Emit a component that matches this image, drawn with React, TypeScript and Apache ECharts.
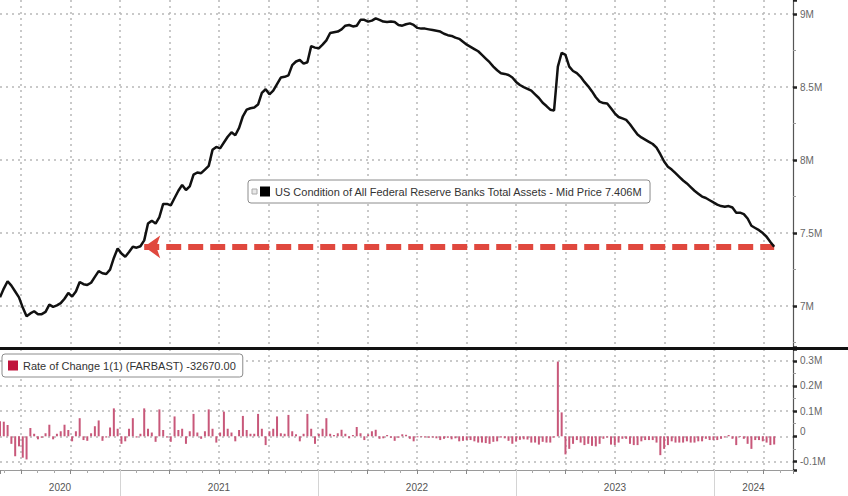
import React, { useEffect, useRef } from "react";
import * as echarts from "echarts";

// Weekly total assets of all Federal Reserve Banks (millions of millions, shown as "M"), late May 2020 -> late Apr 2024
const levels = [
  7.06, 7.12, 7.17, 7.14, 7.10, 7.06, 6.99, 6.93, 6.95, 6.965,
  6.945, 6.945, 6.96, 7.01, 6.995, 7.005, 7.02, 7.05, 7.09, 7.065,
  7.10, 7.165, 7.15, 7.145, 7.16, 7.20, 7.24, 7.225, 7.22, 7.25,
  7.33, 7.395, 7.36, 7.338, 7.37, 7.406, 7.40, 7.41, 7.45, 7.565,
  7.585, 7.565, 7.61, 7.70, 7.70, 7.69, 7.74, 7.79, 7.83, 7.795,
  7.82, 7.90, 7.915, 7.91, 7.935, 7.96, 8.07, 8.09, 8.08, 8.12,
  8.16, 8.19, 8.17, 8.22, 8.30, 8.345, 8.355, 8.36, 8.38, 8.46,
  8.485, 8.45, 8.475, 8.52, 8.565, 8.57, 8.58, 8.65, 8.675, 8.685,
  8.66, 8.67, 8.78, 8.77, 8.765, 8.79, 8.82, 8.87, 8.875, 8.88,
  8.895, 8.92, 8.925, 8.915, 8.92, 8.96, 8.96, 8.948, 8.955, 8.97,
  8.96, 8.948, 8.945, 8.948, 8.945, 8.925, 8.92, 8.93, 8.936, 8.925,
  8.905, 8.90, 8.90, 8.895, 8.89, 8.885, 8.88, 8.865, 8.855, 8.85,
  8.838, 8.83, 8.81, 8.79, 8.775, 8.76, 8.745, 8.72, 8.695, 8.67,
  8.64, 8.615, 8.595, 8.59, 8.583, 8.565, 8.535, 8.514, 8.50, 8.488,
  8.475, 8.45, 8.425, 8.392, 8.37, 8.345, 8.34, 8.64, 8.735, 8.72,
  8.64, 8.61, 8.595, 8.57, 8.535, 8.505, 8.47, 8.43, 8.40, 8.39,
  8.388, 8.355, 8.32, 8.295, 8.285, 8.275, 8.245, 8.21, 8.175, 8.155,
  8.14, 8.125, 8.11, 8.085, 8.04, 7.99, 7.955, 7.935, 7.91, 7.885,
  7.86, 7.84, 7.815, 7.79, 7.77, 7.75, 7.74, 7.725, 7.71, 7.695,
  7.685, 7.68, 7.685, 7.675, 7.64, 7.64, 7.63, 7.60, 7.55, 7.535,
  7.52, 7.50, 7.475, 7.439, 7.406,
];

// Weekly rate of change, in thousands
const changesK = [
  60, 58, 45, -30, -79, -40, -85, -92, 33, 10,
  -12, -6, 12, 46, -12, 10, 20, 46, 25, -20,
  20, 72, -15, -18, 12, 40, 63, -18, -5, 35,
  111, 30, -30, -20, 30, 72, -5, 10, 111, 30,
  15, -22, 107, 25, -5, -22, 79, 25, 30, -30,
  20, 89, 15, -10, 20, 107, 30, -25, 15, 98,
  30, 15, -20, 25, 81, 25, 10, 10, 89, 30,
  -35, 20, 30, 79, 12, 10, 85, 20, 8, -20,
  10, 89, 30, -30, 10, 30, 72, 10, 5, 12,
  26, 10, -8, 5, 37, 12, -15, 8, 20, 26,
  -10, -8, 5, -6, -18, -6, 8, 6, -10, -20,
  -4, -3, -5, -6, -5, -8, -15, -10, -6, -12,
  -8, -20, -18, -15, -15, -20, -25, -25, -27, -30,
  -22, -20, -5, -8, -18, -30, -21, -14, -12, -13,
  -25, -25, -33, -22, -25, -25, -5, 297, 95, -72,
  -50, -30, -15, -25, -35, -30, -38, -40, -30, -10,
  -5, -33, -35, -25, -10, -10, -30, -35, -35, -20,
  -15, -15, -15, -25, -75, -50, -35, -20, -25, -25,
  -25, -20, -25, -25, -20, -20, -10, -15, -15, -15,
  -10, -5, 5, -10, -35, -3, -10, -30, -50, -15,
  -15, -20, -25, -35, -32.67,
];

const yearLabels = ["2020", "2021", "2022", "2023", "2024"];
const topTicks = [7, 7.5, 8, 8.5, 9];
const bottomTicks = [-0.1, 0, 0.1, 0.2, 0.3];
const arrowStartWeek = 38; // week where the hand-drawn arrow annotation begins

const seriesName = "US Condition of All Federal Reserve Banks Total Assets - Mid Price";
const changeName = "Rate of Change 1(1) (FARBAST)";

// axis extents (layout)
const WEEK_SPAN = 208.96;
const Q_MIN = 1.576;
const Q_MAX = 17.595;
const YR_MIN = 2020.394;
const YR_MAX = 2024.399;

const FONT = "'Liberation Sans', Arial, sans-serif";
const GRID_COLOR = "#b8b8b8";

export default function App() {
  const ref = useRef<HTMLDivElement>(null);

  useEffect(() => {
    if (!ref.current) return;
    const chart = echarts.init(ref.current, null, { renderer: "svg" });

    const last = levels[levels.length - 1];
    const lastChg = changesK[changesK.length - 1];
    const name1 = `${seriesName} ${last.toFixed(3)}M`;
    const name2 = `${changeName} ${(lastChg * 1000).toFixed(2)}`;

    const yearNums = yearLabels.map(Number);
    const yearBounds = yearNums.slice(1);
    const yearMids = yearNums.map((y) => {
      const a = Math.max(y, YR_MIN);
      const b = Math.min(y + 1, YR_MAX);
      return (a + b) / 2;
    });

    const gridLine = () => ({
      show: true,
      showMinLine: false,
      showMaxLine: false,
      lineStyle: { color: GRID_COLOR, type: [2, 4], width: 1.5 },
    });

    const option: any = {
      animation: false,
      textStyle: { fontFamily: FONT },
      grid: [
        { left: 0, top: 0, width: 793, height: 347, containLabel: false, outerBoundsMode: "none" },
        { left: 0, top: 349, width: 793, height: 121, containLabel: false, outerBoundsMode: "none" },
      ],
      legend: [
        {
          data: [name1],
          left: 248,
          top: 180,
          icon: "rect",
          itemWidth: 10,
          itemHeight: 10,
          padding: [6, 7, 6, 12],
          backgroundColor: "#fff",
          borderColor: "#8c8c8c",
          borderWidth: 1,
          borderRadius: 3,
          selectedMode: false,
          textStyle: { fontSize: 11, color: "#333", fontFamily: FONT },
          z: 20,
        },
        {
          data: [{ name: name2, itemStyle: { color: "#c0143c" } }],
          left: 2,
          top: 354,
          icon: "rect",
          itemWidth: 10,
          itemHeight: 10,
          padding: [6, 7, 6, 6],
          backgroundColor: "#fff",
          borderColor: "#8c8c8c",
          borderWidth: 1,
          borderRadius: 3,
          selectedMode: false,
          textStyle: { fontSize: 11, color: "#333", fontFamily: FONT },
          z: 20,
        },
      ],
      xAxis: [
        { gridIndex: 0, type: "value", min: 0, max: WEEK_SPAN, show: false, axisLine: { onZero: false } },
        {
          gridIndex: 0, type: "value", min: Q_MIN, max: Q_MAX, splitNumber: 16, position: "bottom",
          axisLine: { show: false, onZero: false }, axisTick: { show: false }, axisLabel: { show: false },
          splitLine: gridLine(),
        },
        { gridIndex: 1, type: "value", min: 0, max: WEEK_SPAN, show: false, axisLine: { onZero: false } },
        {
          gridIndex: 1, type: "value", min: Q_MIN, max: Q_MAX, splitNumber: 16, position: "bottom",
          axisLine: { show: false, onZero: false },
          axisTick: { show: true, length: 4, lineStyle: { color: "#888" } },
          minorTick: { show: true, splitNumber: 3, length: 3, lineStyle: { color: "#aaa" } },
          axisLabel: { show: false },
          splitLine: gridLine(),
        },
        {
          gridIndex: 1, type: "value", min: YR_MIN, max: YR_MAX, position: "bottom",
          axisLine: { show: true, onZero: false, lineStyle: { color: "#9a9a9a", width: 1 } },
          axisTick: { show: true, customValues: yearBounds, length: 26, lineStyle: { color: "#d4d4d4", width: 1 } },
          axisLabel: {
            show: true, customValues: yearMids, margin: 12, color: "#555", fontSize: 10,
            formatter: (v: number) => String(Math.floor(v + 1e-6)),
          },
          splitLine: { show: false },
        },
      ],
      yAxis: [
        {
          gridIndex: 0, type: "value", position: "right", min: 6.72, max: 9.096, splitNumber: 5,
          axisLine: { show: true, onZero: false, lineStyle: { color: "#555", width: 1.2 } },
          axisTick: { show: true, length: 4, lineStyle: { color: "#222", width: 2.5 } },
          minorTick: { show: true, splitNumber: 2, length: 3, lineStyle: { color: "#999" } },
          axisLabel: {
            show: true, customValues: topTicks, margin: 7, color: "#666", fontSize: 10,
            formatter: (v: number) => `${v}M`,
          },
          splitLine: gridLine(),
        },
        {
          gridIndex: 1, type: "value", position: "right", min: -0.134, max: 0.347, splitNumber: 5,
          axisLine: { show: true, onZero: false, lineStyle: { color: "#555", width: 1.2 } },
          axisTick: { show: true, length: 4, lineStyle: { color: "#222", width: 2.5 } },
          minorTick: { show: true, splitNumber: 2, length: 3, lineStyle: { color: "#999" } },
          axisLabel: {
            show: true, customValues: bottomTicks, margin: 7, color: "#666", fontSize: 10,
            formatter: (v: number) => (Math.abs(v) < 1e-9 ? "{z|0}" : `${v}M`),
            rich: { z: { fontSize: 10, color: "#666", padding: [0, 0, 9, 0] } },
          },
          splitLine: gridLine(),
        },
      ],
      series: [
        {
          name: name1,
          type: "line",
          xAxisIndex: 0,
          yAxisIndex: 0,
          data: levels.map((v, i) => [i, v]),
          showSymbol: false,
          clip: false,
          lineStyle: { color: "#111", width: 2.5 },
          itemStyle: { color: "#000" },
          z: 5,
          markLine: {
            silent: true,
            symbol: ["none", "none"],
            label: { show: false },
            lineStyle: { color: "#e0483e", width: 6, type: [15, 7] },
            data: [
              [
                { coord: [arrowStartWeek, last], symbol: "arrow", symbolSize: [17, 16] },
                { coord: [levels.length - 1, last], symbol: "none" },
              ],
              {
                yAxis: last,
                symbol: "none",
                lineStyle: { opacity: 0 },
                label: {
                  show: true,
                  position: "end",
                  distance: 4,
                  formatter: `${last.toFixed(3)}M`,
                  backgroundColor: "#000",
                  color: "#fff",
                  fontSize: 10,
                  padding: [3, 12, 3, 6],
                },
              },
            ],
          },
        },
        {
          name: name2,
          type: "bar",
          xAxisIndex: 2,
          yAxisIndex: 1,
          data: changesK.map((v, i) => [i, v / 1000]),
          barWidth: 2,
          clip: false,
          itemStyle: { color: "#c8587a" },
          markLine: {
            silent: true,
            symbol: ["none", "none"],
            data: [
              {
                yAxis: lastChg / 1000,
                lineStyle: { opacity: 0 },
                label: {
                  show: true,
                  position: "end",
                  distance: 4,
                  formatter: (lastChg * 1000).toFixed(2),
                  backgroundColor: "#c41e3a",
                  color: "#fff",
                  fontSize: 10,
                  padding: [2, 6, 2, 5],
                },
              },
            ],
          },
        },
      ],
      graphic: [
        { type: "rect", shape: { x: 0, y: 347, width: 848, height: 3 }, style: { fill: "#111" }, z: 100 },
        { type: "rect", shape: { x: 252, y: 189, width: 5, height: 5 }, style: { fill: "#e8e8e8", stroke: "#aaa", lineWidth: 1 }, z: 100 },
      ],
    };

    chart.setOption(option);
    return () => chart.dispose();
  }, []);

  return (
    <div
      ref={ref}
      style={{ position: "absolute", left: 0, top: 0, width: 848, height: 496, background: "#fff" }}
    />
  );
}
